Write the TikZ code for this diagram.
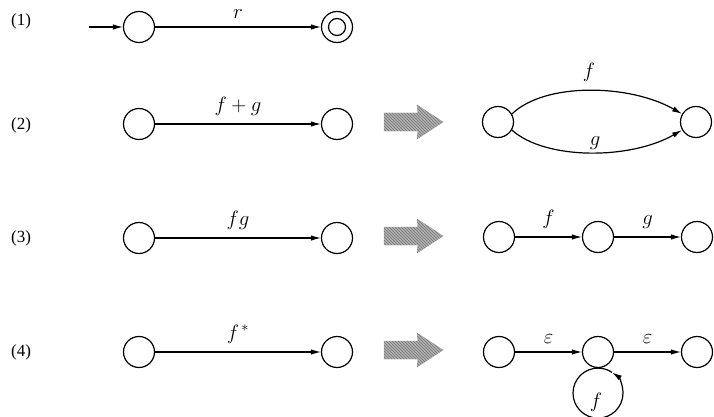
\documentclass[tikz,border=0pt]{standalone}
\usepackage{fontspec}
\setmainfont{Liberation Serif}
\usetikzlibrary{arrows.meta,patterns}
\tikzset{
  st/.style={circle,draw,line width=1.2pt,minimum size=31pt,inner sep=0pt},
  ln/.style={line width=1.2pt},
  tr/.style={ln,-{Latex[length=10pt,width=5.5pt]}},
  lab/.style={font=\fontsize{21}{21}\selectfont,inner sep=0pt},
  rowlab/.style={font=\fontsize{17}{17}\selectfont,inner sep=0pt},
  bigarrow/.style={fill=gray!60,draw=gray!75,line width=0.4pt,
    postaction={pattern=north west lines,pattern color=gray!90!black}}
}
\begin{document}
\begin{tikzpicture}[x=1pt,y=-1pt]
\useasboundingbox (0,0) rectangle (714,417);
% row labels
\node[rowlab] (l1) at (21,21) {(1)};
\node[rowlab] (l2) at (21,125) {(2)};
\node[rowlab] (l3) at (21,238) {(3)};
\node[rowlab] (l4) at (21,352) {(4)};
% row 1
\coordinate (s0) at (89,27);
\node[st] (a1) at (139,27) {};
\node[st] (b1) at (337,27) {};
\node[circle,draw,line width=1.2pt,minimum size=17pt,inner sep=0pt] (b1i) at (337,27) {};
\draw[tr] (s0) -- (a1);
\draw[tr] (a1) -- (b1) node[lab,midway,above=8pt] {$r$};
% row 2
\node[st] (a2) at (139,124) {};
\node[st] (b2) at (337,124) {};
\draw[tr] (a2) -- (b2) node[lab,midway,above=8pt] {$f+g$};
\draw[bigarrow] (384,113) -- (418,113) -- (417,105) -- (443,122) -- (417,139) -- (418,131) -- (384,131) -- cycle;
\node[st] (c2) at (498,122) {};
\node[st] (d2) at (696,122) {};
\draw[tr] (c2.30) .. controls (545,82) and (630,84) .. (d2.150);
\draw[tr] (c2.-30) .. controls (545,160) and (630,160) .. (d2.-150);
\node[lab] (f2) at (589,72) {$f$};
\node[lab] (g2) at (595,143) {$g$};
% row 3
\node[st] (a3) at (139,238) {};
\node[st] (b3) at (337,238) {};
\draw[tr] (a3) -- (b3) node[lab,midway,above=8pt] {$fg$};
\draw[bigarrow] (384,227) -- (418,227) -- (417,219) -- (443,236) -- (417,253) -- (418,245) -- (384,245) -- cycle;
\node[st] (c3) at (499,237) {};
\node[st] (m3) at (598,237) {};
\node[st] (d3) at (697,237) {};
\draw[tr] (c3) -- (m3) node[lab,midway,above=8pt] {$f$};
\draw[tr] (m3) -- (d3) node[lab,midway,above=8pt] {$g$};
% row 4
\node[st] (a4) at (139,352) {};
\node[st] (b4) at (337,352) {};
\draw[tr] (a4) -- (b4) node[lab,midway,above=8pt] {$f^{\,*}$};
\draw[bigarrow] (384,341) -- (418,341) -- (417,333) -- (443,350) -- (417,367) -- (418,359) -- (384,359) -- cycle;
\node[st] (c4) at (499,352) {};
\node[st] (m4) at (598,352) {};
\node[st] (d4) at (697,352) {};
\draw[tr] (c4) -- (m4) node[lab,midway,above=8pt] {$\varepsilon$};
\draw[tr] (m4) -- (d4) node[lab,midway,above=8pt] {$\varepsilon$};
\coordinate (lp) at (m4.south);
\draw[tr] (lp) arc[start angle=270, end angle=-56, radius=25];
\draw[ln] (lp) arc[start angle=270, end angle=304, radius=25];
\node[lab] (f4) at (596,402) {$f$};
\end{tikzpicture}
\end{document}
